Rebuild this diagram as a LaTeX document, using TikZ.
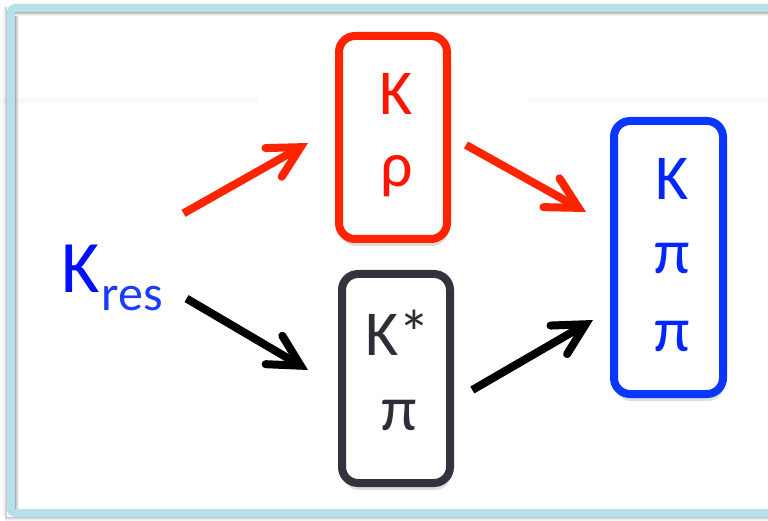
\documentclass[tikz,border=0pt]{standalone}
\usepackage{fontspec}
\setmainfont{Carlito}
\usetikzlibrary{arrows.meta,shadows}
\definecolor{framec}{HTML}{B5E1E8}
\definecolor{faintc}{HTML}{F8F8F8}
\definecolor{redbox}{HTML}{FF2400}
\definecolor{redtxt}{HTML}{FF1400}
\definecolor{bluebox}{HTML}{0A36FF}
\definecolor{bluetxt}{HTML}{0026FF}
\definecolor{kblue}{HTML}{0010FF}
\definecolor{resblue}{HTML}{1A3CFF}
\definecolor{darkbox}{HTML}{33333F}
\definecolor{darktxt}{HTML}{2E2E38}
\begin{document}
\begin{tikzpicture}[x=1pt,y=-1pt,
  boxst/.style={line width=8pt, rounded corners=16pt, fill=white, inner sep=0pt,
    drop shadow={shadow xshift=1pt, shadow yshift=-7pt, opacity=0.13, fill=black}},
  boxtxt/.style={anchor=base, inner sep=0pt, font=\fontsize{64}{64}\selectfont},
  arr/.style={line width=8pt, -{Straight Barb[length=31pt,width=33pt,line cap=round,line join=miter]}}
]
\useasboundingbox (0,0) rectangle (768,521);
\clip (0,0) rectangle (768,521);
\fill[white] (0,0) rectangle (768,521);
% faint background line
\draw[faintc, line width=5pt] (0,101) -- (258,101);
\draw[faintc, line width=5pt] (528,101) -- (768,101);
% frame shadows outside
\foreach \i/\o in {0/0.22,1/0.14,2/0.08,3/0.04}{
  \draw[black, opacity=\o, line width=1pt] (5,517.5+\i) -- (768,517.5+\i);
  \draw[black, opacity=\o, line width=1pt] (6.5-\i,7) -- (6.5-\i,517);
}
% frame
\draw[framec, line width=8pt, rounded corners=4pt] (11,8) rectangle (800,513);
% frame shadows inside
\foreach \i/\o in {0/0.30,1/0.20,2/0.11,3/0.05}{
  \draw[black, opacity=\o, line width=1pt] (15,12.5+\i) -- (768,12.5+\i);
  \draw[black, opacity=\o, line width=1pt] (15.5+\i,16.5) -- (15.5+\i,509);
}
% boxes
\node[boxst, draw=redbox, minimum width=108pt, minimum height=203pt] (rbox) at (393,137.5) {};
\node[boxst, draw=darkbox, minimum width=108pt, minimum height=209pt] (kbox) at (396,378.5) {};
\node[boxst, draw=bluebox, minimum width=109pt, minimum height=273pt] (bbox) at (668.5,257.5) {};
% box texts
\node[boxtxt, text=redtxt] (rK) at (396,115) {K};
\node[boxtxt, text=redtxt] (rrho) at (397,187) {ρ};
\node[boxtxt, text=darktxt] (kK) at (398,355) {K*};
\node[boxtxt, text=darktxt] (kpi) at (399,430) {π};
\node[boxtxt, text=bluetxt] (bK) at (672,200) {K};
\node[boxtxt, text=bluetxt] (bpi1) at (672,274) {π};
\node[boxtxt, text=bluetxt] (bpi2) at (672,351) {π};
% K_res
\node[anchor=base west, inner sep=0pt, text=kblue] (kres) at (61,292)
  {\fontsize{74}{74}\selectfont K\kern2pt\textcolor{resblue}{\fontsize{50}{50}\selectfont\raisebox{-18pt}{res}}};
% arrows
\draw[arr, redbox] ([shift={(20.5,-31)}]kres.north east) -- ([shift={(-27,5.5)}]rbox.west);
\draw[arr, redbox] ([shift={(15,7.5)}]rbox.east) -- ([shift={(-24,-45.5)}]bbox.west);
\draw[arr, black] ([shift={(23.5,-12)}]kres.south east) -- ([shift={(-30,-8.5)}]kbox.west);
\draw[arr, black] ([shift={(18.3,11.5)}]kbox.east) -- ([shift={(-17,62.5)}]bbox.west);
\end{tikzpicture}
\end{document}
